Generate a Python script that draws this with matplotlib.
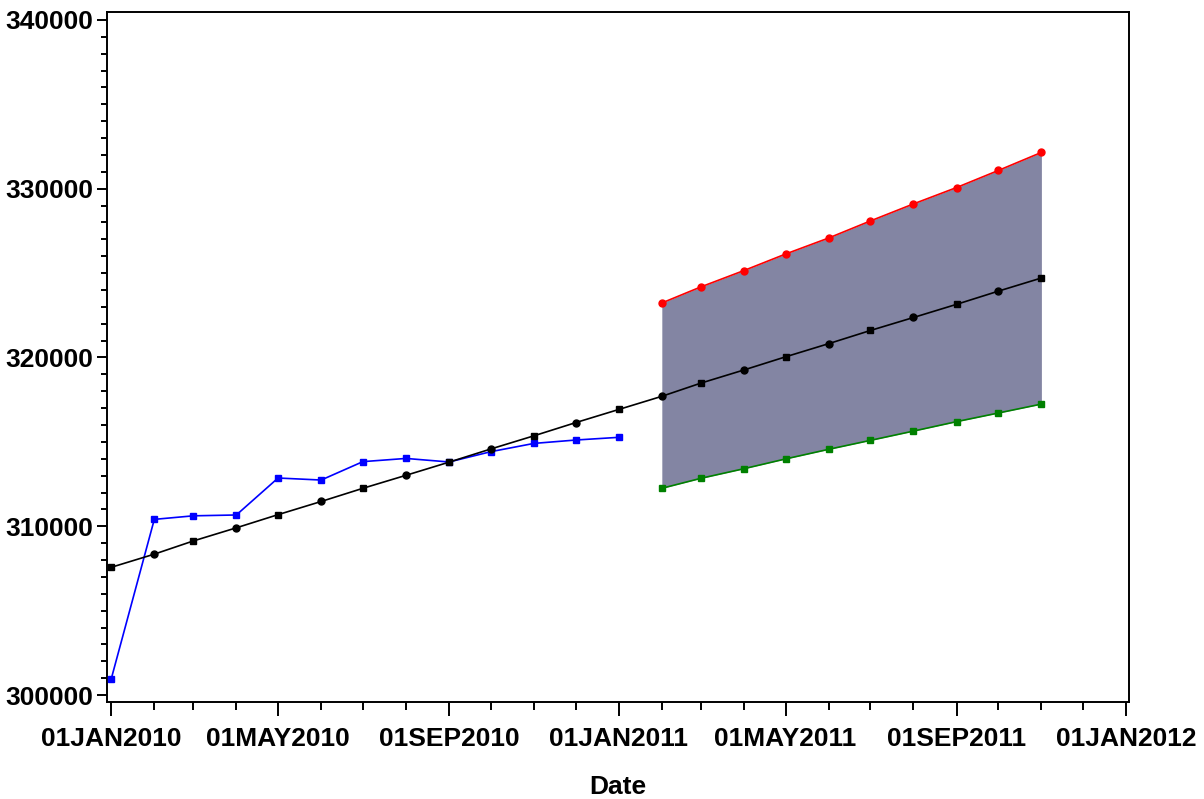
import numpy as np
import pandas as pd
import matplotlib
matplotlib.use("Agg")
import matplotlib.pyplot as plt
import matplotlib.dates as mdates

plt.rcParams['font.family'] = ['Liberation Sans', 'DejaVu Sans']
plt.rcParams['font.weight'] = 'bold'

# monthly dates
actual_dates = pd.date_range("2010-01-01", "2011-01-01", freq="MS")
trend_dates = pd.date_range("2010-01-01", "2011-11-01", freq="MS")
fc_dates = pd.date_range("2011-02-01", "2011-11-01", freq="MS")

actual = [300950, 310410, 310620, 310670, 312860, 312740, 313830,
          314020, 313810, 314420, 314910, 315110, 315270]
trend = [307570, 308350, 309130, 309910, 310690, 311470, 312250, 313020,
         313800, 314580, 315360, 316140, 316920, 317700, 318480, 319260,
         320040, 320820, 321600, 322370, 323150, 323930, 324710]
upper = [323230, 324180, 325150, 326130, 327080, 328090, 329100,
         330070, 331080, 332150]
lower = [312250, 312840, 313410, 313990, 314560, 315090, 315640,
         316200, 316710, 317240]

fig = plt.figure(figsize=(12.04, 7.99), dpi=100)
ax = fig.add_axes([0.0889, 0.1214, 0.8488, 0.8636])

ax.fill_between(fc_dates, lower, upper, color='#8385a3', lw=0, zorder=1)

ax.plot(actual_dates, actual, color='blue', lw=1.2, marker='s', ms=4.5, zorder=3)
ax.plot(trend_dates, trend, color='black', lw=1.2, zorder=3)
ax.plot(trend_dates[::2], trend[::2], ls='none', color='black', marker='s', ms=4.5, zorder=4)
ax.plot(trend_dates[1::2], trend[1::2], ls='none', color='black', marker='o', ms=5, zorder=4)
ax.plot(fc_dates, upper, color='red', lw=1.2, marker='o', ms=5, zorder=3)
ax.plot(fc_dates, lower, color='green', lw=1.2, marker='s', ms=4.5, zorder=3)

ax.set_xlim(pd.Timestamp("2009-12-29"), pd.Timestamp("2012-01-03"))
ax.set_ylim(299590, 340470)

ax.xaxis.set_major_locator(mdates.MonthLocator(bymonth=[1, 5, 9]))
ax.xaxis.set_minor_locator(mdates.MonthLocator())
ax.xaxis.set_major_formatter(
    matplotlib.ticker.FuncFormatter(lambda v, p: mdates.num2date(v).strftime("%d%b%Y").upper()))
ax.yaxis.set_major_locator(matplotlib.ticker.MultipleLocator(10000))
ax.yaxis.set_minor_locator(matplotlib.ticker.MultipleLocator(1000))

ax.tick_params(axis='both', which='major', labelsize=19, width=1.4, direction='out')
ax.tick_params(axis='x', which='major', length=10, pad=8)
ax.tick_params(axis='x', which='minor', length=6, width=1.4)
ax.tick_params(axis='y', which='major', length=7, pad=3)
ax.tick_params(axis='y', which='minor', length=4, width=1.4)
for lab in ax.get_xticklabels() + ax.get_yticklabels():
    lab.set_fontweight('bold')

for s in ax.spines.values():
    s.set_linewidth(1.4)

ax.set_xlabel("Date", fontsize=19, fontweight='bold', labelpad=17)

fig.savefig("out.png", dpi=100)
